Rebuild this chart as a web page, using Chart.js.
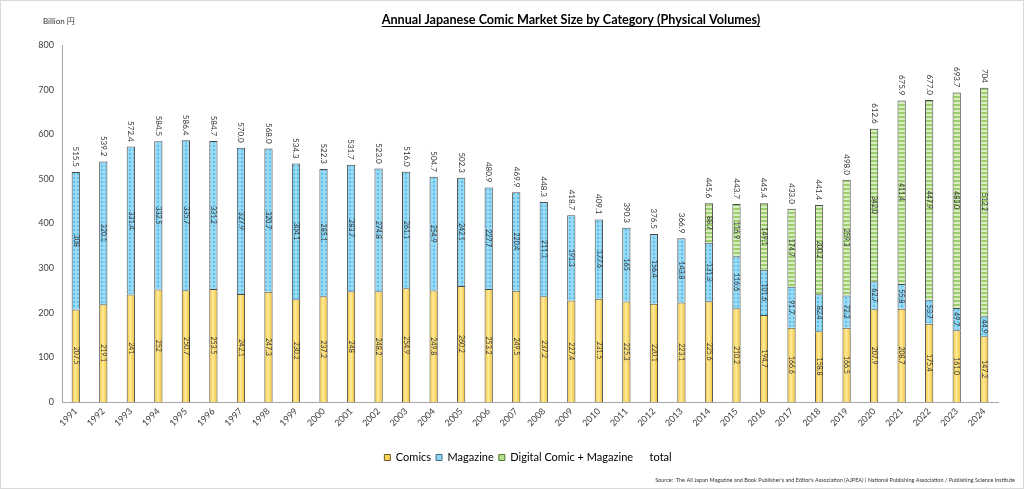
<!DOCTYPE html>
<html>
<head>
<meta charset="utf-8">
<script src="https://cdn.jsdelivr.net/npm/chart.js@4.4.1/dist/chart.umd.min.js"></script>
<style>
    html, body { margin: 0; padding: 0; background: #fff; }
    #wrap { width: 1024px; height: 489px; position: relative; }
</style>
</head>
<body>
<div id="wrap"><canvas id="myChart"></canvas></div>
<script>
    // values as printed on the chart (strings keep "241" vs "516.0" as shown)
    var years = ['1991','1992','1993','1994','1995','1996','1997','1998','1999','2000',
        '2001','2002','2003','2004','2005','2006','2007','2008','2009','2010',
        '2011','2012','2013','2014','2015','2016','2017','2018','2019','2020',
        '2021','2022','2023','2024'];
    var comics = ['207.5','219.1','241','252','250.7','253.5','242.1','247.3','230.2','237.2',
        '248','248.2','254.9','249.8','260.2','253.2','249.5','237.2','227.4','231.5',
        '225.3','220.1','223.1','225.6','210.2','194.7','166.6','158.8','166.5','207.9',
        '208.7','175.4','161.0','147.2'];
    var magazine = ['308','320.1','331.4','332.5','335.7','331.2','327.9','320.7','304.1','285.1',
        '283.7','274.8','261.1','254.9','242.1','227.7','220.4','211.1','191.3','177.6',
        '165','156.4','143.8','131.3','116.6','101.6','91.7','82.4','72.2','62.7',
        '55.8','53.7','49.7','44.9'];
    var digital = [null,null,null,null,null,null,null,null,null,null,
        null,null,null,null,null,null,null,null,null,null,
        null,null,null,'88.7','116.9','149.1','174.7','200.2','259.3','342.0',
        '411.4','447.9','483.0','512.2'];
    var totals = ['515.5','539.2','572.4','584.5','586.4','584.7','570.0','568.0','534.3','522.3',
        '531.7','523.0','516.0','504.7','502.3','480.9','469.9','448.3','418.7','409.1',
        '390.3','376.5','366.9','445.6','443.7','445.4','433.0','441.4','498.0','612.6',
        '675.9','677.0','693.7','704'];
    var yTicks = [0, 100, 200, 300, 400, 500, 600, 700, 800];

    var BAR_PCT = 0.3;
    var FONT = 'Lato, "Noto Sans CJK JP", sans-serif';

    function toNum(arr) {
        return arr.map(function (v) { return v === null ? null : Number(v); });
    }

    // patterns for the magazine / digital fills
    function dotPattern() {
        var c = document.createElement('canvas');
        c.width = 4; c.height = 4;
        var g = c.getContext('2d');
        g.fillStyle = '#9fdaf5';
        g.fillRect(0, 0, 4, 4);
        g.fillStyle = '#55c3ef';
        g.beginPath();
        g.arc(2, 2, 1.2, 0, Math.PI * 2);
        g.fill();
        return g.createPattern(c, 'repeat');
    }
    function stripePattern() {
        var c = document.createElement('canvas');
        c.width = 4; c.height = 4;
        var g = c.getContext('2d');
        g.fillStyle = '#9ccf6c';
        g.fillRect(0, 0, 4, 4);
        g.fillStyle = '#d9eec2';
        g.fillRect(0, 2, 4, 2);
        return g.createPattern(c, 'repeat');
    }

    // comics bars: light centre, golden edges
    function comicsFill(c) {
        var chart = c.chart;
        var xs = chart.scales && chart.scales.x;
        if (!xs || c.dataIndex === undefined) return '#fbd35a';
        var cx = xs.getPixelForValue(c.dataIndex);
        var w = xs.width / years.length * BAR_PCT;
        var g = chart.ctx.createLinearGradient(cx - w / 2, 0, cx + w / 2, 0);
        g.addColorStop(0, '#f3c12a');
        g.addColorStop(0.45, '#ffeb9c');
        g.addColorStop(1, '#f1be26');
        return g;
    }

    var barLabels = {
        id: 'barLabels',
        afterDatasetsDraw: function (chart) {
            var ctx = chart.ctx;
            ctx.save();
            ctx.fillStyle = '#333333';
            ctx.textBaseline = 'middle';
            chart.data.datasets.forEach(function (ds, di) {
                var meta = chart.getDatasetMeta(di);
                meta.data.forEach(function (el, i) {
                    var txt = ds.printed[i];
                    if (!txt) return;
                    ctx.save();
                    if (ds.type === 'line') {
                        ctx.font = '8px ' + FONT;
                        ctx.textAlign = 'right';
                        ctx.translate(el.x, el.y - 5);
                    } else {
                        ctx.font = '7px ' + FONT;
                        ctx.textAlign = 'center';
                        ctx.translate(el.x, (el.y + el.base) / 2);
                    }
                    ctx.rotate(Math.PI / 2);
                    ctx.fillText(txt, 0, 0);
                    ctx.restore();
                });
            });
            ctx.restore();
        }
    };

    var decorations = {
        id: 'decorations',
        beforeDraw: function (chart) {
            var ctx = chart.ctx;
            ctx.save();
            ctx.fillStyle = '#ffffff';
            ctx.fillRect(0, 0, chart.width, chart.height);
            ctx.restore();
        },
        afterLayout: function (chart) {
            chart.legend.left += 23;
            chart.legend.right += 23;
        },
        afterDraw: function (chart) {
            var ctx = chart.ctx;
            ctx.save();
            // frame
            ctx.strokeStyle = '#d9d9d9';
            ctx.lineWidth = 1;
            ctx.strokeRect(0.5, 0.5, chart.width - 1, chart.height - 1);
            // title, underlined
            var title = 'Annual Japanese Comic Market Size by Category (Physical Volumes)';
            ctx.font = 'bold 12.6px ' + FONT;
            ctx.fillStyle = '#000000';
            ctx.textAlign = 'center';
            ctx.textBaseline = 'alphabetic';
            ctx.fillText(title, 571, 24);
            var tw = ctx.measureText(title).width;
            ctx.fillRect(571 - tw / 2, 26, tw, 1);
            // unit
            ctx.font = '8px ' + FONT;
            ctx.fillStyle = '#333333';
            ctx.textAlign = 'left';
            ctx.textBaseline = 'middle';
            ctx.fillText('Billion 円', 43, 21);
            // source
            ctx.font = '5.5px ' + FONT;
            ctx.textAlign = 'right';
            ctx.fillText('Source:  The All Japan Magazine and Book Publisher\'s and Editor\'s Association (AJPEA) | National Publishing Association / Publishing Science Institute', 1015, 480);
            ctx.restore();
        }
    };

    var ctx = document.getElementById('myChart').getContext('2d');
    var myChart = new Chart(ctx, {
        type: 'bar',
        data: {
            labels: years,
            datasets: [{
                label: 'Comics',
                data: toNum(comics),
                printed: comics,
                backgroundColor: comicsFill,
                borderColor: '#4a4a4a',
                borderWidth: 1,
                stack: 'a'
            }, {
                label: 'Magazine',
                data: toNum(magazine),
                printed: magazine,
                backgroundColor: dotPattern(),
                borderColor: '#4a4a4a',
                borderWidth: 1,
                stack: 'a'
            }, {
                label: 'Digital Comic + Magazine',
                data: toNum(digital),
                printed: digital,
                backgroundColor: stripePattern(),
                borderColor: '#4a4a4a',
                borderWidth: 1,
                stack: 'a'
            }, {
                type: 'line',
                label: 'total',
                data: toNum(totals),
                printed: totals,
                showLine: false,
                pointRadius: 0,
                borderColor: 'rgba(0,0,0,0)',
                backgroundColor: 'rgba(0,0,0,0)',
                stack: 'total'
            }]
        },
        options: {
            responsive: true,
            maintainAspectRatio: false,
            animation: false,
            events: [],
            barPercentage: BAR_PCT,
            categoryPercentage: 1,
            layout: { padding: { left: 12, right: 26, top: 45, bottom: 16 } },
            plugins: {
                title: { display: false },
                tooltip: { enabled: false },
                legend: {
                    position: 'bottom',
                    labels: {
                        font: { family: FONT, size: 11 },
                        color: '#333333',
                        boxWidth: 6,
                        boxHeight: 6,
                        padding: 5,
                        generateLabels: function () {
                            return [
                                { text: 'Comics', fillStyle: '#fbd35a', strokeStyle: '#6b5a22', lineWidth: 1, datasetIndex: 0 },
                                { text: 'Magazine', fillStyle: '#8fd5f3', strokeStyle: '#3f6f86', lineWidth: 1, datasetIndex: 1 },
                                { text: 'Digital Comic + Magazine', fillStyle: '#b7e08e', strokeStyle: '#4f7a30', lineWidth: 1, datasetIndex: 2 },
                                { text: 'total', fillStyle: 'rgba(0,0,0,0)', strokeStyle: 'rgba(0,0,0,0)', lineWidth: 0, datasetIndex: 3 }
                            ];
                        }
                    }
                }
            },
            scales: {
                x: {
                    stacked: true,
                    grid: { display: false, drawTicks: false },
                    border: { display: true, color: '#a6a6a6', width: 1 },
                    ticks: {
                        autoSkip: false,
                        maxRotation: 45,
                        minRotation: 45,
                        padding: 4,
                        color: '#404040',
                        font: { family: FONT, size: 9 }
                    },
                    afterFit: function (s) { s.height = 45; }
                },
                y: {
                    stacked: true,
                    min: 0,
                    max: 800,
                    grid: { display: false, drawTicks: false },
                    border: { display: true, color: '#a6a6a6', width: 1 },
                    afterBuildTicks: function (s) {
                        s.ticks = yTicks.map(function (v) { return { value: v }; });
                    },
                    ticks: {
                        padding: 8,
                        color: '#404040',
                        font: { family: FONT, size: 9 }
                    },
                    afterFit: function (s) { s.width = 50; }
                }
            }
        },
        plugins: [barLabels, decorations]
    });
</script>
</body>
</html>
